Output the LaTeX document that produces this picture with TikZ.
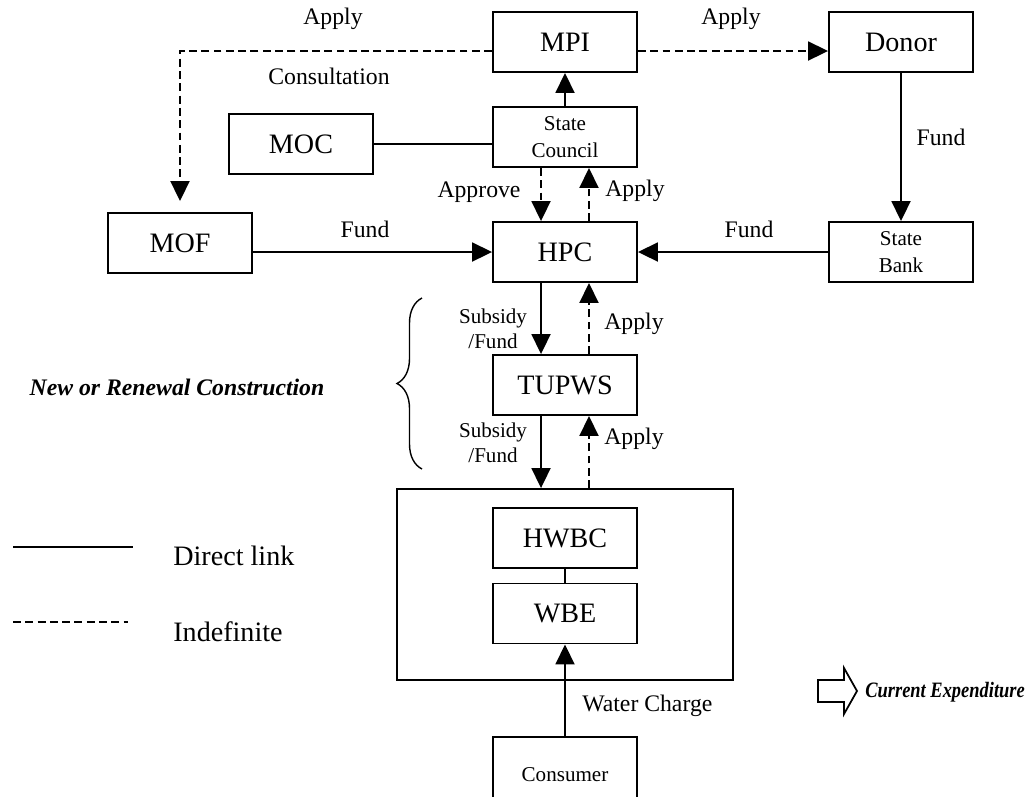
\documentclass[tikz,border=0pt]{standalone}
\usepackage{fontspec}
\setmainfont{Liberation Serif}
\usetikzlibrary{arrows.meta,decorations.pathreplacing}

\tikzset{
  box/.style={draw, line width=1.1pt, minimum width=2.88cm, minimum height=1.2cm, inner sep=0pt, align=center, font=\fontsize{16}{18}\selectfont},
  smallbox/.style={box, font=\fontsize{12}{15}\selectfont},
  lbl/.style={inner sep=0pt, align=center, font=\fontsize{13.5}{15}\selectfont},
  link/.style={line width=1.1pt, -{Triangle[length=0.4cm, width=0.38cm]}},
  indef/.style={link, dash pattern=on 4.5pt off 2.5pt},
  plain/.style={line width=1.1pt},
}

\begin{document}
\begin{tikzpicture}[x=0.02cm, y=-0.02cm]
\useasboundingbox (0,0) rectangle (1031,796);
% agencies
\node[box] (MPI) at (565,42) {MPI};
\node[box] (donor) at (901,42) {Donor};
\node[smallbox] (council) at (565,137) {State\\Council};
\node[box] (MOC) at (301,144) {MOC};
\node[box] (MOF) at (180,243) {MOF};
\node[box] (HPC) at (565,252) {HPC};
\node[smallbox] (bank) at (901,252) {State\\Bank};
\node[box] (TUPWS) at (565,385) {TUPWS};
% water supply bodies
\node[draw, line width=1.1pt, minimum width=6.72cm, minimum height=3.82cm] (utility) at (565,584.5) {};
\node[box] (HWBC) at (565,538) {HWBC};
\node[box] (WBE) at (565,613.5) {WBE};
\node[smallbox, minimum height=1.52cm] (consumer) at (565,775) {Consumer};

% links
\draw[indef] ([yshift=-0.18cm]MPI.east) -- ([yshift=-0.18cm]donor.west);
\draw[indef] ([yshift=-0.18cm]MPI.west) -| ([yshift=0.22cm]MOF.north);
\draw[link] (council) -- (MPI);
\draw[plain] (MOC.east) -- (MOC.east -| council.west);
\draw[indef] ([xshift=-0.48cm]council.south) -- ([xshift=-0.48cm]HPC.north);
\draw[indef] ([xshift=0.48cm]HPC.north) -- ([xshift=0.48cm]council.south);
\draw[link] (MOF.east |- HPC.west) -- (HPC.west);
\draw[link] (bank) -- (HPC);
\draw[link] (donor) -- (bank);
\draw[link] ([xshift=-0.48cm]HPC.south) -- ([xshift=-0.48cm]TUPWS.north);
\draw[indef] ([xshift=0.48cm]TUPWS.north) -- ([xshift=0.48cm]HPC.south);
\draw[link] ([xshift=-0.48cm]TUPWS.south) -- ([xshift=-0.48cm]utility.north);
\draw[indef] ([xshift=0.48cm]utility.north) -- ([xshift=0.48cm]TUPWS.south);
\draw[plain] (HWBC) -- (WBE);
\draw[link] (consumer) -- (WBE);

% labels
\node[lbl] (applyL) at (333,19) {Apply};
\node[lbl] (consult) at (329,76) {Consultation};
\node[lbl] (applyR) at (731,19) {Apply};
\node[lbl] (fundD) at (941,137) {Fund};
\node[lbl] (approve) at (479,192) {Approve};
\node[lbl] (applyC) at (635,191) {Apply};
\node[lbl] (fundL) at (365,229) {Fund};
\node[lbl] (fundR) at (749,229) {Fund};
\node[lbl, font=\fontsize{12}{14}\selectfont] (subsidyA) at (493,329) {Subsidy\\/Fund};
\node[lbl] (applyA) at (634,324) {Apply};
\node[lbl, font=\fontsize{12}{14}\selectfont] (subsidyB) at (493,443) {Subsidy\\/Fund};
\node[lbl] (applyB) at (634,439) {Apply};
\node[lbl, anchor=west] (charge) at (582,706) {Water Charge};

% construction brace
\draw[line width=0.8pt, decorate, decoration={brace, amplitude=0.5cm}] (422,469) -- (422,298);
\node[lbl, font=\fontsize{13.5}{15}\selectfont\bfseries\itshape] (newcons) at (177,387) {New or Renewal Construction};

% current expenditure
\draw[line width=1pt] (818,680) -- (844,680) -- (844,668) -- (857,691) -- (844,714) -- (844,702) -- (818,702) -- cycle;
\node[lbl, anchor=west, font=\fontsize{12.5}{14}\selectfont\bfseries\itshape] (current) at (865,692) {\scalebox{0.84}[1]{Current Expenditure}};

% legend
\coordinate (solidA) at (13,547);
\coordinate (solidB) at (133,547);
\coordinate (dashA) at (13,622);
\coordinate (dashB) at (128,622);
\draw[plain] (solidA) -- (solidB);
\draw[plain, dash pattern=on 4.5pt off 2.5pt] (dashA) -- (dashB);
\node[lbl, anchor=west, font=\fontsize{16}{18}\selectfont] (direct) at (173,556) {Direct link};
\node[lbl, anchor=west, font=\fontsize{16}{18}\selectfont] (indefinite) at (173,632) {Indefinite};
\end{tikzpicture}
\end{document}
